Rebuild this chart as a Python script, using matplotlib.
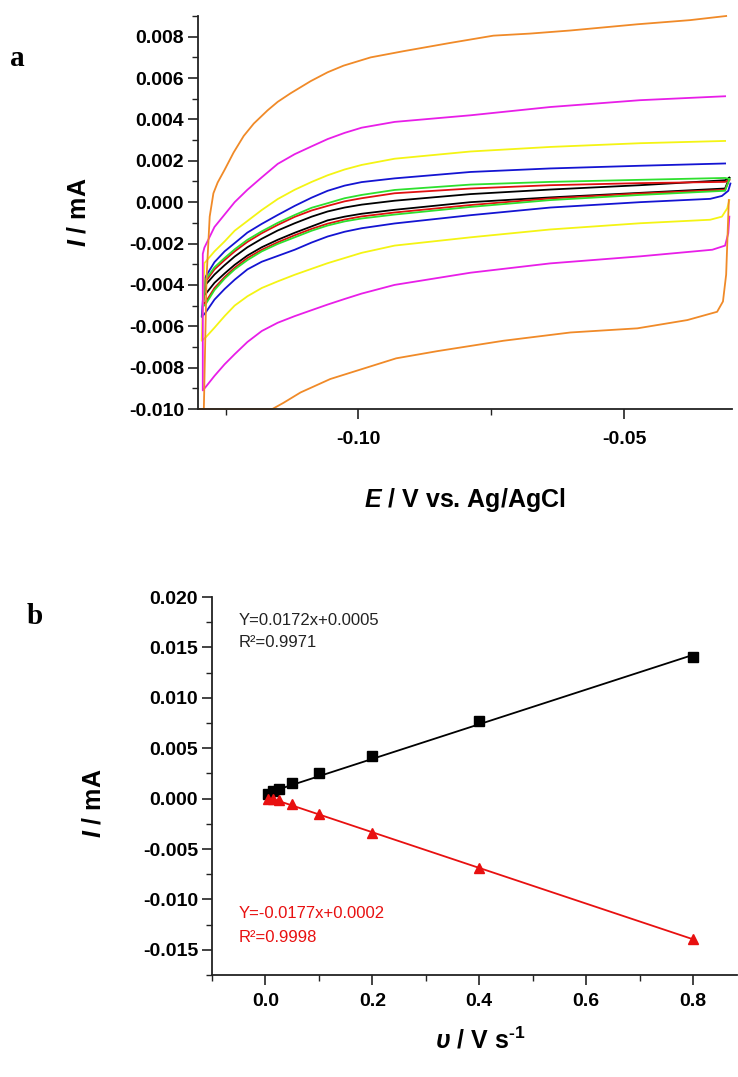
import numpy as np
import matplotlib
matplotlib.use("Agg")
import matplotlib.pyplot as plt
from matplotlib.ticker import MultipleLocator, FormatStrFormatter

plt.rcParams.update({
    "font.family": ["Liberation Sans", "DejaVu Sans"],
    "font.weight": "bold",
    "axes.unicode_minus": False,
    "mathtext.fontset": "custom",
    "mathtext.rm": "Liberation Sans:bold",
    "mathtext.it": "Liberation Sans:italic:bold",
    "mathtext.bf": "Liberation Sans:bold",
})

# ---------------- (a) cyclic voltammograms: E in V, currents in uA ----------------
grid = [-0.1288, -0.1271, -0.1252, -0.1233, -0.1209, -0.1182, -0.1152, -0.1120, -0.1088,
        -0.1058, -0.1026, -0.0994, -0.0932, -0.0789, -0.0639, -0.0470, -0.0310]

e_black_up = [-0.1291] + grid + [-0.0302]
i_black_up = [-4.50, -4.00, -3.50, -3.05, -2.63, -2.18, -1.77, -1.37, -1.02, -0.70, -0.45,
              -0.26, -0.12, 0.07, 0.39, 0.61, 0.82, 1.06, 1.18]
e_black_lo = [-0.1291] + grid + [-0.0302]
i_black_lo = [-4.50, -4.45, -3.90, -3.45, -3.03, -2.58, -2.18, -1.82, -1.48, -1.17, -0.88,
              -0.70, -0.56, -0.37, 0.00, 0.23, 0.45, 0.66, 1.18]

e_red_up = [-0.1292] + grid + [-0.0302]
i_red_up = [-4.95, -3.85, -3.25, -2.80, -2.38, -1.92, -1.50, -1.10, -0.71, -0.40, -0.18,
            0.04, 0.19, 0.43, 0.66, 0.82, 0.92, 0.98, 1.08]
e_red_lo = [-0.1292] + grid + [-0.0302]
i_red_lo = [-4.95, -4.85, -4.15, -3.62, -3.17, -2.70, -2.30, -1.94, -1.60, -1.29, -1.04,
            -0.84, -0.69, -0.50, -0.14, 0.18, 0.42, 0.60, 1.08]

e_green_up = [-0.1293] + grid + [-0.0302]
i_green_up = [-5.05, -3.75, -3.15, -2.70, -2.28, -1.82, -1.41, -1.00, -0.62, -0.27, -0.05,
              0.19, 0.35, 0.59, 0.85, 0.98, 1.08, 1.17, 1.12]
e_green_lo = [-0.1293] + grid + [-0.0302]
i_green_lo = [-5.05, -4.95, -4.25, -3.70, -3.25, -2.80, -2.38, -2.02, -1.70, -1.38, -1.13,
              -0.93, -0.79, -0.60, -0.23, 0.10, 0.35, 0.55, 1.12]

e_blue_up = [-0.1295, -0.1290] + grid[1:]
i_blue_up = [-5.55, -3.70, -2.90, -2.38, -1.98, -1.47, -1.05, -0.62, -0.18, 0.22, 0.55,
             0.80, 0.97, 1.15, 1.46, 1.63, 1.76, 1.87]
e_blue_lo = [-0.1295] + grid[:-1] + [-0.0338, -0.0316, -0.0304, -0.0300]
i_blue_lo = [-5.55, -5.35, -4.71, -4.20, -3.75, -3.25, -2.88, -2.60, -2.30, -1.95, -1.66,
             -1.43, -1.26, -1.03, -0.63, -0.26, 0.00, 0.16, 0.30, 0.55, 0.90]

e_yellow_up = [-0.1295, -0.1290] + grid[1:]
i_yellow_up = [-6.70, -2.95, -2.38, -1.90, -1.38, -0.91, -0.38, 0.15, 0.60, 0.98, 1.30,
               1.58, 1.80, 2.10, 2.45, 2.67, 2.85, 2.96]
e_yellow_lo = [-0.1295] + grid[:-1] + [-0.0338, -0.0316, -0.0306, -0.0302]
i_yellow_lo = [-6.70, -6.55, -6.07, -5.51, -5.00, -4.55, -4.15, -3.83, -3.51, -3.22, -2.95,
               -2.70, -2.45, -2.10, -1.70, -1.32, -1.02, -0.85, -0.70, -0.30, 0.10]

e_magenta_up = [-0.1293, -0.1290] + grid[1:]
i_magenta_up = [-2.50, -2.20, -1.20, -0.60, 0.00, 0.60, 1.20, 1.85, 2.32, 2.70, 3.05,
                3.35, 3.60, 3.88, 4.20, 4.60, 4.93, 5.12]
e_magenta_lo = [-0.1293] + grid[:-1] + [-0.0334, -0.0310, -0.0304, -0.0302]
i_magenta_lo = [-9.10, -8.95, -8.40, -7.84, -7.35, -6.76, -6.23, -5.83, -5.51, -5.22, -4.95,
                -4.68, -4.42, -4.00, -3.41, -2.96, -2.62, -2.30, -2.10, -1.50, -0.70]

e_orange_up = [-0.1291, -0.1286, -0.1280, -0.1273, -0.1265, -0.1252, -0.1235, -0.1216,
               -0.1197, -0.1171, -0.1152, -0.1128, -0.1090, -0.1058, -0.1028, -0.0977,
               -0.0915, -0.0827, -0.0746, -0.0677, -0.0601, -0.0475, -0.0376, -0.0308]
i_orange_up = [-10.0, -3.70, -0.70, 0.43, 0.95, 1.56, 2.40, 3.20, 3.80, 4.44, 4.85, 5.26,
               5.85, 6.28, 6.60, 7.00, 7.30, 7.70, 8.05, 8.15, 8.30, 8.60, 8.80, 9.00]
e_orange_lo = [-0.1301, -0.1162, -0.1141, -0.1109, -0.1053, -0.0991, -0.0929, -0.0851,
               -0.0727, -0.0601, -0.0475, -0.0381, -0.0325, -0.0314, -0.0308, -0.0303]
i_orange_lo = [-10.0, -10.0, -9.70, -9.20, -8.55, -8.05, -7.55, -7.20, -6.70, -6.30,
               -6.10, -5.70, -5.30, -4.80, -3.50, 0.10]

cv_curves = [
    ("#000000", e_black_up, i_black_up, e_black_lo, i_black_lo),
    ("#e01010", e_red_up, i_red_up, e_red_lo, i_red_lo),
    ("#2ee02e", e_green_up, i_green_up, e_green_lo, i_green_lo),
    ("#1414d2", e_blue_up, i_blue_up, e_blue_lo, i_blue_lo),
    ("#f4f414", e_yellow_up, i_yellow_up, e_yellow_lo, i_yellow_lo),
    ("#e81ee8", e_magenta_up, i_magenta_up, e_magenta_lo, i_magenta_lo),
    ("#f08a28", e_orange_up, i_orange_up, e_orange_lo, i_orange_lo),
]

# ---------------- (b) peak current vs scan rate ----------------
scan_rate = [0.005, 0.015, 0.025, 0.05, 0.1, 0.2, 0.4, 0.8]
i_anodic = [0.00043, 0.00075, 0.00092, 0.0015, 0.0025, 0.0042, 0.0077, 0.01405]
i_cathodic = [0.0000, -0.00007, -0.0001, -0.00057, -0.00156, -0.0034, -0.0069, -0.0139]
fit_anodic = (0.0172, 0.0005, 0.9971)
fit_cathodic = (-0.0177, 0.0002, 0.9998)

W, H = 738, 1077
fig = plt.figure(figsize=(W / 100, H / 100), dpi=100)


def frame(l, t, r, b):
    return fig.add_axes([l / W, 1 - b / H, (r - l) / W, (b - t) / H])


def style(ax):
    for s in ("top", "right"):
        ax.spines[s].set_visible(False)
    for s in ("left", "bottom"):
        ax.spines[s].set_linewidth(1.3)
        ax.spines[s].set_color("#222222")
    ax.tick_params(which="major", direction="out", length=7, width=1.2,
                   labelsize=14, color="#222222")
    ax.tick_params(which="minor", direction="out", length=4, width=1.0,
                   color="#222222")
    ax.tick_params(axis="y", which="major", pad=3)
    for lab in ax.get_xticklabels() + ax.get_yticklabels():
        lab.set_fontweight("bold")


# panel a
ax1 = frame(198, 16, 732, 409)
for color, eu, iu, el, il in cv_curves:
    e = np.concatenate([np.asarray(el)[::-1], eu])
    i = np.concatenate([np.asarray(il)[::-1], iu]) / 1000.0   # uA -> mA
    ax1.plot(e, i, color=color, lw=1.3, clip_on=False, solid_joinstyle="round")
ax1.set_xlim(-0.1302, -0.0297)
ax1.set_ylim(-0.010, 0.0090)
ax1.xaxis.set_major_locator(MultipleLocator(0.05))
ax1.xaxis.set_minor_locator(MultipleLocator(0.025))
ax1.xaxis.set_major_formatter(FormatStrFormatter("%.2f"))
ax1.yaxis.set_major_locator(MultipleLocator(0.002))
ax1.yaxis.set_minor_locator(MultipleLocator(0.001))
ax1.yaxis.set_major_formatter(FormatStrFormatter("%.3f"))
style(ax1)
ax1.tick_params(axis="x", which="major", pad=9)
ax1.set_xlabel(r"$\mathit{E}$ / V vs. Ag/AgCl", fontsize=18, fontweight="bold", va="center")
ax1.xaxis.set_label_coords(0.5, -0.232)
ax1.set_ylabel(r"$\mathit{I}$ / mA", fontsize=18, fontweight="bold", va="center")
ax1.yaxis.set_label_coords(-0.2247, 0.50)

# panel b
ax2 = frame(212, 597, 737, 975)
xf = np.array([min(scan_rate), max(scan_rate)])
ax2.plot(xf, fit_anodic[0] * xf + fit_anodic[1], color="black", lw=1.3)
ax2.plot(xf, fit_cathodic[0] * xf + fit_cathodic[1], color="#e81010", lw=1.3)
ax2.plot(scan_rate, i_anodic, ls="none", marker="s", ms=6.5, color="black")
ax2.plot(scan_rate, i_cathodic, ls="none", marker="^", ms=7.5, color="#e81010")
ax2.set_xlim(-0.1, 0.882)
ax2.set_ylim(-0.0175, 0.020)
ax2.xaxis.set_major_locator(MultipleLocator(0.2))
ax2.xaxis.set_minor_locator(MultipleLocator(0.1))
ax2.xaxis.set_major_formatter(FormatStrFormatter("%.1f"))
ax2.yaxis.set_major_locator(MultipleLocator(0.005))
ax2.yaxis.set_minor_locator(MultipleLocator(0.0025))
ax2.yaxis.set_major_formatter(FormatStrFormatter("%.3f"))
style(ax2)
ax2.tick_params(axis="x", which="major", pad=6)
ax2.set_xlabel(r"$\mathit{\upsilon}$ / V s$^{\text{-1}}$", fontsize=18, fontweight="bold",
               va="center")
ax2.xaxis.set_label_coords(0.51, -0.172)
ax2.set_ylabel(r"$\mathit{I}$ / mA", fontsize=18, fontweight="bold", va="center")
ax2.yaxis.set_label_coords(-0.2248, 0.455)

ax2.text(0.051, 0.926, f"Y={fit_anodic[0]:.4f}x+{fit_anodic[1]:.4f}",
         transform=ax2.transAxes, fontsize=12, fontweight="normal", color="#222222",
         va="baseline")
ax2.text(0.051, 0.868, f"R²={fit_anodic[2]:.4f}", transform=ax2.transAxes,
         fontsize=12, fontweight="normal", color="#222222", va="baseline")
ax2.text(0.051, 0.151, f"Y={fit_cathodic[0]:.4f}x+{fit_cathodic[1]:.4f}",
         transform=ax2.transAxes, fontsize=12, fontweight="normal", color="#e81010",
         va="baseline")
ax2.text(0.051, 0.087, f"R²={fit_cathodic[2]:.4f}", transform=ax2.transAxes,
         fontsize=12, fontweight="normal", color="#e81010", va="baseline")

# panel letters
fig.text(17 / W, 1 - 58 / H, "a", fontsize=21, fontweight="bold",
         family="Liberation Serif", ha="center", va="center")
fig.text(35 / W, 1 - 616 / H, "b", fontsize=21, fontweight="bold",
         family="Liberation Serif", ha="center", va="center")

fig.savefig("out.png", dpi=100)
